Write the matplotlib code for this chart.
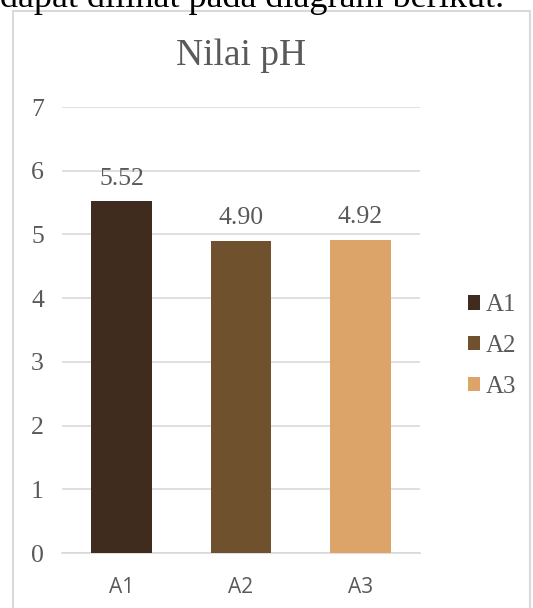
import matplotlib.pyplot as plt
from matplotlib.patches import Rectangle

# data
categories = ["A1", "A2", "A3"]
ph_values = [5.52, 4.90, 4.92]
bar_colors = ["#402c1e", "#70512e", "#dda46a"]
y_ticks = [0, 1, 2, 3, 4, 5, 6, 7]

W, H = 533, 608
fig = plt.figure(figsize=(W / 100, H / 100), dpi=100)
fig.patch.set_facecolor("white")

# caption from the page, mostly cut off at the top
fig.text(0.0, 1 - 7 / H, "dapat dilihat pada diagram berikut.",
         family="Liberation Serif", fontsize=26, color="black",
         ha="left", va="baseline")

# chart frame
fig.patches.append(Rectangle((13 / W, -0.05), (530 - 13) / W, 1 - 11 / H + 0.05,
                             transform=fig.transFigure, fill=False,
                             edgecolor="#d9d9d9", linewidth=1.5))

ax = fig.add_axes([62 / W, 1 - 553 / H, (420 - 62) / W, (553 - 107) / H])
x = range(len(categories))
bars = ax.bar(x, ph_values, width=0.51, color=bar_colors, zorder=3)

for xi, v in zip(x, ph_values):
    ax.annotate(f"{v:.2f}", (xi, v), xytext=(0, 12), textcoords="offset points",
                ha="center", va="baseline", family="Liberation Serif",
                fontsize=18.5, color="#595959")

ax.set_ylim(0, 7)
ax.set_xlim(-0.5, 2.5)
ax.set_yticks(y_ticks)
ax.set_yticklabels([str(t) for t in y_ticks], family="Liberation Serif",
                   fontsize=18.5, color="#595959")
ax.set_xticks(list(x))
ax.set_xticklabels(categories, family="Open Sans", fontsize=15, color="#595959")
ax.tick_params(length=0)
ax.tick_params(axis="y", pad=13)
ax.tick_params(axis="x", pad=17)
ax.grid(axis="y", color="#d9d9d9", linewidth=1.2, zorder=0)
for side in ["top", "right", "left"]:
    ax.spines[side].set_visible(False)
ax.spines["bottom"].set_color("#d9d9d9")
ax.spines["bottom"].set_linewidth(1.2)

ax.set_title("Nilai pH", family="Liberation Serif", fontsize=27,
             color="#595959", pad=30)

leg = fig.legend(bars, categories, loc="center left",
                 bbox_to_anchor=(445 / W, 1 - 346 / H),
                 frameon=False, handlelength=0.5, handleheight=0.5,
                 handletextpad=0.25, labelspacing=0.75,
                 prop={"family": "Liberation Serif", "size": 18})
for t in leg.get_texts():
    t.set_color("#595959")

fig.savefig("out.png", dpi=100)
